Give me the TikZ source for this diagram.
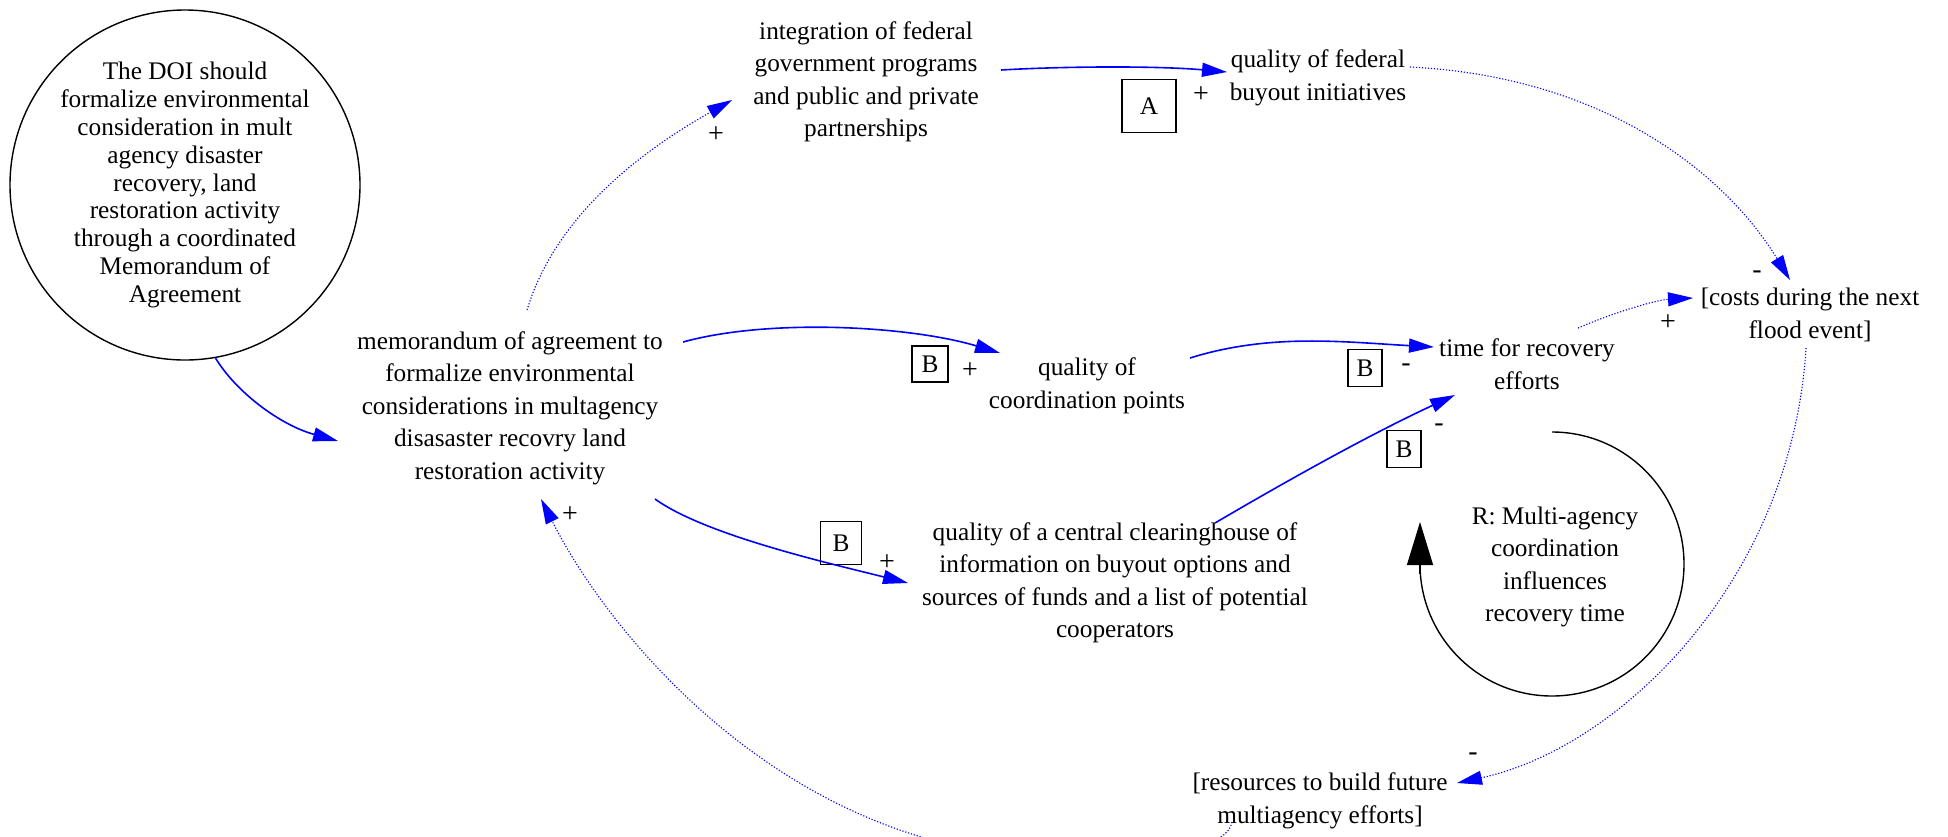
\documentclass[tikz,border=0pt]{standalone}
\usepackage{fontspec}
\setmainfont{Liberation Serif}
\usetikzlibrary{arrows.meta,calc}
\definecolor{eblue}{RGB}{0,0,255}
\tikzset{
  txt/.style={align=center, inner sep=0pt, font=\fontsize{25.3}{32.5}\selectfont},
  pm/.style={inner sep=0pt, font=\fontsize{28}{30}\selectfont},
  lbox/.style={draw, line width=1.4pt, inner sep=0pt, font=\fontsize{25.3}{30}\selectfont},
  link/.style={draw=eblue, line width=1.6pt, -{Triangle[length=25pt,width=14pt]}},
  dlink/.style={draw=eblue, line width=1.1pt, dash pattern=on 1.2pt off 1.8pt, -{Triangle[length=25pt,width=14pt]}},
  loopline/.style={draw=black, line width=1.4pt}
}
\begin{document}
\begin{tikzpicture}[x=1pt,y=1pt]
\clip (0,0) rectangle (1948,-836);
\path[use as bounding box] (0,0) rectangle (1948,-836);

% nodes
\node[draw, circle, minimum size=350pt, line width=1.4pt, align=center, inner sep=0pt,
      font=\fontsize{25.3}{27.8}\selectfont] (doi) at (185,-185)
  {The DOI should\\formalize environmental\\consideration in mult\\agency disaster\\recovery, land\\restoration activity\\through a coordinated\\Memorandum of\\Agreement};
\node[txt] (memo) at (510,-408) {memorandum of agreement to\\formalize environmental\\considerations in multagency\\disasaster recovry land\\restoration activity};
\node[txt] (integ) at (866,-82) {integration of federal\\government programs\\and public and private\\partnerships};
\node[txt] (fed) at (1318,-78) {quality of federal\\buyout initiatives};
\node[txt] (coord) at (1087,-386) {quality of\\coordination points};
\node[txt] (clear) at (1115,-583) {quality of a central clearinghouse of\\information on buyout options and\\sources of funds and a list of potential\\cooperators};
\node[txt] (time) at (1527,-364) {time for recovery\\efforts};
\node[txt] (costs) at (1810,-315) {[costs during the next\\flood event]};
\node[txt] (res) at (1320,-801) {[resources to build future\\multiagency efforts]};
\node[txt] (loop) at (1555,-567) {R: Multi-agency\\coordination\\influences\\recovery time};
\coordinate (lowbend) at (918,-836);

% loop symbol
\draw[loopline] (1552,-432) arc[start angle=90, end angle=-180, radius=132];
\draw[loopline, -{Triangle[length=43pt,width=26pt]}] (1420,-574) -- (1420,-522);

% polarity labels and loop boxes
\node[lbox, minimum width=54pt, minimum height=53pt] (boxA) at (1149,-106) {A};
\node[pm] (pA) at (1201,-95) {+};
\node[pm] (pInt) at (716,-135) {+};
\node[lbox, minimum width=36pt, minimum height=36pt] (boxB1) at (930,-364) {B};
\node[pm] (pB1) at (970,-371) {+};
\node[lbox, minimum width=34pt, minimum height=37pt] (boxB2) at (1365,-368) {B};
\node[pm] (pB2) at (1406,-368) {-};
\node[lbox, minimum width=34pt, minimum height=37pt] (boxB3) at (1404,-449) {B};
\node[pm] (pB3) at (1439,-428) {-};
\node[lbox, minimum width=41pt, minimum height=43pt] (boxB4) at (841,-543) {B};
\node[pm] (pB4) at (887,-563) {+};
\node[pm] (pMemo) at (570,-515) {+};
\node[pm] (pCostsTop) at (1757,-275) {-};
\node[pm] (pCostsLeft) at (1668,-323) {+};
\node[pm] (pRes) at (1473,-757) {-};

% connectors
\draw[link] (doi.-80) .. controls (236,-392) and (280,-425) .. ($(memo)+(-172,-33)$);
\draw[dlink] ($(memo)+(17,98)$) .. controls (556,-214) and (645,-149) .. ($(integ)+(-134,-18)$);
\draw[link] ($(integ)+(135,12)$) .. controls (1070,-66) and (1160,-66) .. ($(fed)+(-91,6)$);
\draw[dlink] ($(fed)+(92,11)$) .. controls (1610,-77) and (1728,-178) .. ($(costs)+(-20,35)$);
\draw[link] ($(memo)+(173,66)$) .. controls (770,-318) and (910,-326) .. ($(coord)+(-87,33)$);
\draw[link] ($(coord)+(103,28)$) .. controls (1270,-333) and (1344,-342) .. ($(time)+(-93,17)$);
\draw[link] ($(memo)+(145,-91)$) .. controls (705,-535) and (828,-563) .. ($(clear)+(-207,0)$);
\draw[link] ($(clear)+(100,60)$) .. controls (1295,-476) and (1375,-432) .. ($(time)+(-72,-31)$);
\draw[dlink] ($(time)+(51,36)$) .. controls (1610,-314) and (1655,-300) .. ($(costs)+(-117,17)$);
\draw[dlink] ($(costs)+(-4,-33)$) .. controls (1792,-580) and (1620,-748) .. ($(res)+(137,18)$);
\draw[dlink] ($(res)+(-88,-21)$) .. controls (1225,-870) and (1004,-863) .. (lowbend)
  .. controls (727,-777) and (600,-616) .. ($(memo)+(31,-91)$);
\end{tikzpicture}
\end{document}
